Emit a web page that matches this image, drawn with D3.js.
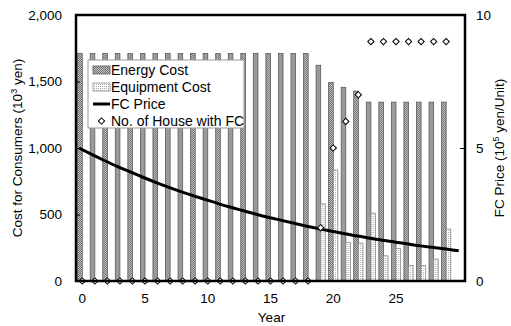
<!DOCTYPE html>
<html>
<head>
<meta charset="utf-8">
<script src="https://cdn.jsdelivr.net/npm/d3@7"></script>
<style>
  body { margin: 0; background: #fff; }
  text { font-family: "Liberation Sans", Arial, sans-serif; fill: #000; }
</style>
</head>
<body>
<svg id="chart" width="511" height="326"></svg>
<script>
// values
const years = d3.range(0, 31); // 0..30, year 30 holds no bars
const energyCost = [1710, 1710, 1710, 1710, 1710, 1710, 1710, 1710, 1710, 1710,
  1710, 1710, 1710, 1710, 1710, 1710, 1710, 1710, 1710, 1622,
  1492, 1456, 1428, 1345, 1345, 1345, 1345, 1345, 1345, 1345];
const equipmentCost = [0, 0, 0, 0, 0, 0, 0, 0, 0, 0,
  0, 0, 0, 0, 0, 0, 0, 0, 0, 580,
  835, 290, 285, 510, 190, 245, 117, 115, 165, 390];
const fcPrice = [5.00, 4.76, 4.53, 4.31, 4.11, 3.91, 3.72, 3.54, 3.37, 3.21,
  3.06, 2.91, 2.77, 2.64, 2.51, 2.39, 2.28, 2.17, 2.06, 1.96,
  1.87, 1.78, 1.69, 1.61, 1.53, 1.46, 1.39, 1.32, 1.26, 1.20, 1.14];
const houses = [0, 0, 0, 0, 0, 0, 0, 0, 0, 0,
  0, 0, 0, 0, 0, 0, 0, 0, 0, 2,
  5, 6, 7, 9, 9, 9, 9, 9, 9, 9];
const leftTicks = [0, 500, 1000, 1500, 2000];
const rightTicks = [0, 5, 10];
const yearTicks = [0, 5, 10, 15, 20, 25];

const plot = { left: 76, right: 465, top: 15, bottom: 281 };
const svg = d3.select('#chart');

// fill patterns for the two bar series
const defs = svg.append('defs');
const pEnergy = defs.append('pattern').attr('id', 'pEnergy')
  .attr('width', 2).attr('height', 2).attr('patternUnits', 'userSpaceOnUse');
pEnergy.append('rect').attr('width', 2).attr('height', 2).attr('fill', '#c4c4c4');
pEnergy.append('rect').attr('width', 1).attr('height', 1).attr('fill', '#707070');
pEnergy.append('rect').attr('x', 1).attr('y', 1).attr('width', 1).attr('height', 1).attr('fill', '#707070');

const pEquip = defs.append('pattern').attr('id', 'pEquip')
  .attr('width', 2).attr('height', 2).attr('patternUnits', 'userSpaceOnUse');
pEquip.append('rect').attr('width', 2).attr('height', 2).attr('fill', '#fff');
pEquip.append('rect').attr('width', 1).attr('height', 1).attr('fill', '#a8a8a8');

const x = d3.scaleBand().domain(years).range([plot.left, plot.right]);
const xSub = d3.scaleBand().domain(['energy', 'equip'])
  .range([0, x.bandwidth()]).paddingOuter(0.36);
const xLine = d3.scaleLinear().domain([0, 30]).range([plot.left + 3, x(30) + x.bandwidth() / 2]);
const yLeft = d3.scaleLinear().domain([0, 2000]).range([plot.bottom, plot.top]);
const yRight = d3.scaleLinear().domain([0, 10]).range([plot.bottom, plot.top]);

// bars
const groups = svg.append('g').selectAll('g')
  .data(energyCost.map((e, i) => ({ year: years[i], energy: e, equip: equipmentCost[i] })))
  .join('g')
  .attr('transform', d => `translate(${x(d.year)},0)`);

groups.append('rect')
  .attr('x', xSub('energy'))
  .attr('y', d => yLeft(d.energy))
  .attr('width', xSub.bandwidth())
  .attr('height', d => yLeft(0) - yLeft(d.energy))
  .attr('fill', 'url(#pEnergy)')
  .attr('stroke', '#5a5a5a').attr('stroke-width', 0.8);

groups.filter(d => d.equip > 0).append('rect')
  .attr('x', xSub('equip'))
  .attr('y', d => yLeft(d.equip))
  .attr('width', xSub.bandwidth())
  .attr('height', d => yLeft(0) - yLeft(d.equip))
  .attr('fill', 'url(#pEquip)')
  .attr('stroke', '#8c8c8c').attr('stroke-width', 0.8);

// FC price line
const line = d3.line()
  .x((d, i) => xLine(i))
  .y(d => yRight(d))
  .curve(d3.curveMonotoneX);
svg.append('path')
  .datum(fcPrice)
  .attr('d', line)
  .attr('fill', 'none')
  .attr('stroke', '#000')
  .attr('stroke-width', 3);

// houses with FC (square turned 45 degrees)
const diamond = d3.symbol().type(d3.symbolSquare).size(20);
svg.append('g').selectAll('path')
  .data(houses)
  .join('path')
  .attr('d', diamond)
  .attr('transform', (d, i) => `translate(${x(years[i]) + x.bandwidth() / 2},${yRight(d)}) rotate(45)`)
  .attr('fill', '#fff')
  .attr('stroke', '#000')
  .attr('stroke-width', 1);

// frame
svg.append('rect')
  .attr('x', plot.left).attr('y', plot.top)
  .attr('width', plot.right - plot.left).attr('height', plot.bottom - plot.top)
  .attr('fill', 'none').attr('stroke', '#000').attr('stroke-width', 2.5);

// axes
const leftAxis = svg.append('g')
  .attr('transform', `translate(${plot.left},0)`)
  .call(d3.axisLeft(yLeft).tickValues(leftTicks).tickFormat(d3.format(',')).tickSize(-4).tickPadding(14));
const rightAxis = svg.append('g')
  .attr('transform', `translate(${plot.right},0)`)
  .call(d3.axisRight(yRight).tickValues(rightTicks).tickSize(-5).tickPadding(11));
const bottomAxis = svg.append('g')
  .attr('transform', `translate(0,${plot.bottom})`)
  .call(d3.axisBottom(x).tickValues(yearTicks).tickSize(0).tickPadding(12));

[leftAxis, rightAxis, bottomAxis].forEach(a => {
  a.select('.domain').remove();
  a.selectAll('text').attr('font-size', 13.5).attr('font-family', '"Liberation Sans", Arial, sans-serif');
  a.selectAll('line').attr('stroke', '#000').attr('stroke-width', 1);
});

// axis titles
svg.append('text')
  .attr('x', (plot.left + plot.right) / 2 + 1).attr('y', 322)
  .attr('text-anchor', 'middle').attr('font-size', 13.5)
  .text('Year');

const leftTitle = svg.append('text')
  .attr('transform', `translate(22,${(plot.top + plot.bottom) / 2}) rotate(-90)`)
  .attr('text-anchor', 'middle').attr('font-size', 13.5);
leftTitle.append('tspan').text('Cost for Consumers (10');
leftTitle.append('tspan').attr('dy', -5).attr('font-size', 9).text('3');
leftTitle.append('tspan').attr('dy', 5).text(' yen)');

const rightTitle = svg.append('text')
  .attr('transform', `translate(504,${(plot.top + plot.bottom) / 2}) rotate(-90)`)
  .attr('text-anchor', 'middle').attr('font-size', 13.5);
rightTitle.append('tspan').text('FC Price (10');
rightTitle.append('tspan').attr('dy', -5).attr('font-size', 9).text('5');
rightTitle.append('tspan').attr('dy', 5).text(' yen/Unit)');

// legend
const legend = svg.append('g').attr('transform', 'translate(88,60)');
legend.append('rect')
  .attr('width', 156).attr('height', 68)
  .attr('fill', '#fff').attr('stroke', '#999').attr('stroke-width', 1);

const legendItems = ['Energy Cost', 'Equipment Cost', 'FC Price', 'No. of House with FC'];
const rowY = d3.scalePoint().domain(legendItems).range([10, 61]);

legend.append('rect')
  .attr('x', 5).attr('y', rowY('Energy Cost') - 4).attr('width', 17).attr('height', 8)
  .attr('fill', 'url(#pEnergy)').attr('stroke', '#5a5a5a').attr('stroke-width', 0.8);
legend.append('rect')
  .attr('x', 5).attr('y', rowY('Equipment Cost') - 4).attr('width', 17).attr('height', 8)
  .attr('fill', 'url(#pEquip)').attr('stroke', '#8c8c8c').attr('stroke-width', 0.8);
legend.append('line')
  .attr('x1', 5).attr('x2', 22)
  .attr('y1', rowY('FC Price')).attr('y2', rowY('FC Price'))
  .attr('stroke', '#000').attr('stroke-width', 3);
legend.append('path')
  .attr('d', diamond)
  .attr('transform', `translate(13.5,${rowY('No. of House with FC')}) rotate(45)`)
  .attr('fill', '#fff').attr('stroke', '#000');

legend.selectAll('text.item')
  .data(legendItems)
  .join('text')
  .attr('class', 'item')
  .attr('x', 23)
  .attr('y', d => rowY(d))
  .attr('dy', '0.36em')
  .attr('font-size', 14)
  .text(d => d);
</script>
</body>
</html>
